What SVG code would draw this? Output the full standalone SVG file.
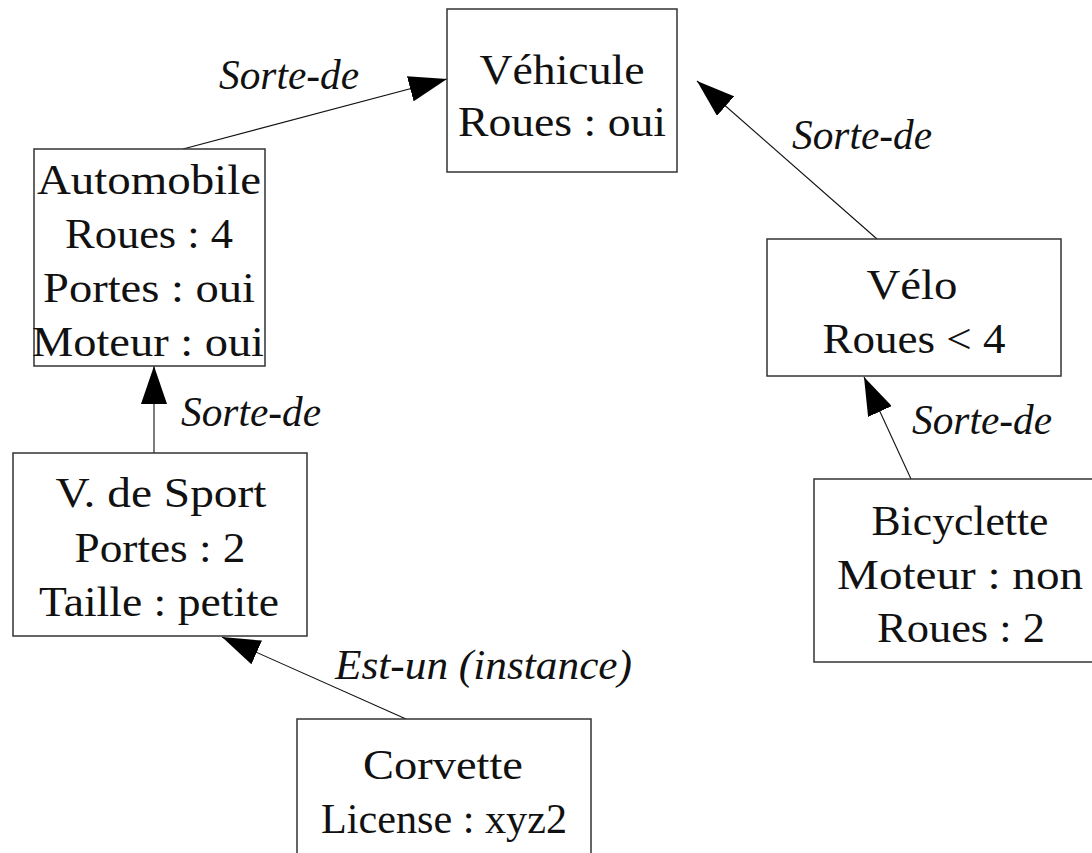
<svg xmlns="http://www.w3.org/2000/svg" width="1092" height="853" viewBox="0 0 1092 853">
  <style>
    .box { fill: #ffffff; stroke: #333333; stroke-width: 1.5; }
    .t { font-family: "Liberation Serif", "DejaVu Serif", serif; font-size: 43px; fill: #111111; text-anchor: middle; }
    .lbl { font-family: "Liberation Serif", "DejaVu Serif", serif; font-style: italic; font-size: 43px; fill: #111111; }
    .edge { stroke: #111111; stroke-width: 1.1; fill: none; marker-end: url(#arrow); }
  </style>
  <defs>
    <marker id="arrow" viewBox="0 -13 38 26" refX="38" refY="0" markerWidth="38" markerHeight="26" markerUnits="userSpaceOnUse" orient="auto">
      <path d="M0,-13 L38,0 L0,13 Z" fill="#000000"/>
    </marker>
  </defs>
  <rect width="1092" height="853" fill="#ffffff"/>

  <!-- connectors and their labels -->
  <g id="connectors">
    <line class="edge" x1="183" y1="149" x2="447" y2="79"/>
    <line class="edge" x1="877" y1="239" x2="697" y2="81"/>
    <line class="edge" x1="154" y1="453" x2="154" y2="366"/>
    <line class="edge" x1="911" y1="479" x2="864" y2="377"/>
    <line class="edge" x1="406" y1="719" x2="222" y2="637"/>
    <text class="lbl" x="219" y="89" textLength="140" lengthAdjust="spacingAndGlyphs">Sorte-de</text>
    <text class="lbl" x="792" y="149" textLength="140" lengthAdjust="spacingAndGlyphs">Sorte-de</text>
    <text class="lbl" x="181" y="426" textLength="140" lengthAdjust="spacingAndGlyphs">Sorte-de</text>
    <text class="lbl" x="912" y="434" textLength="140" lengthAdjust="spacingAndGlyphs">Sorte-de</text>
    <text class="lbl" x="335" y="679" textLength="297" lengthAdjust="spacingAndGlyphs">Est-un (instance)</text>
  </g>

  <g id="vehicule">
    <rect class="box" x="447" y="9" width="230" height="163"/>
    <text class="t" x="562" y="84" textLength="165" lengthAdjust="spacingAndGlyphs">Véhicule</text>
    <text class="t" x="562" y="136" textLength="208" lengthAdjust="spacingAndGlyphs">Roues : oui</text>
  </g>

  <g id="automobile">
    <rect class="box" x="34" y="149" width="231" height="217"/>
    <text class="t" x="149" y="194" textLength="224" lengthAdjust="spacingAndGlyphs">Automobile</text>
    <text class="t" x="149" y="248" textLength="168" lengthAdjust="spacingAndGlyphs">Roues : 4</text>
    <text class="t" x="149" y="302" textLength="212" lengthAdjust="spacingAndGlyphs">Portes : oui</text>
    <text class="t" x="148" y="356" textLength="232" lengthAdjust="spacingAndGlyphs">Moteur : oui</text>
  </g>

  <g id="velo">
    <rect class="box" x="767" y="239" width="294" height="137"/>
    <text class="t" x="912" y="299" textLength="91" lengthAdjust="spacingAndGlyphs">Vélo</text>
    <text class="t" x="914" y="353" textLength="183" lengthAdjust="spacingAndGlyphs">Roues &lt; 4</text>
  </g>

  <g id="sport">
    <rect class="box" x="13" y="453" width="294" height="183"/>
    <text class="t" x="161" y="507" textLength="211" lengthAdjust="spacingAndGlyphs">V. de Sport</text>
    <text class="t" x="160" y="562" textLength="171" lengthAdjust="spacingAndGlyphs">Portes : 2</text>
    <text class="t" x="159" y="616" textLength="240" lengthAdjust="spacingAndGlyphs">Taille : petite</text>
  </g>

  <g id="bicyclette">
    <rect class="box" x="814" y="479" width="292" height="183"/>
    <text class="t" x="960" y="535" textLength="177" lengthAdjust="spacingAndGlyphs">Bicyclette</text>
    <text class="t" x="960" y="589" textLength="246" lengthAdjust="spacingAndGlyphs">Moteur : non</text>
    <text class="t" x="961" y="642" textLength="168" lengthAdjust="spacingAndGlyphs">Roues : 2</text>
  </g>

  <g id="corvette">
    <rect class="box" x="297" y="719" width="294" height="150"/>
    <text class="t" x="443" y="779" textLength="160" lengthAdjust="spacingAndGlyphs">Corvette</text>
    <text class="t" x="444" y="833" textLength="246" lengthAdjust="spacingAndGlyphs">License : xyz2</text>
  </g>
</svg>
